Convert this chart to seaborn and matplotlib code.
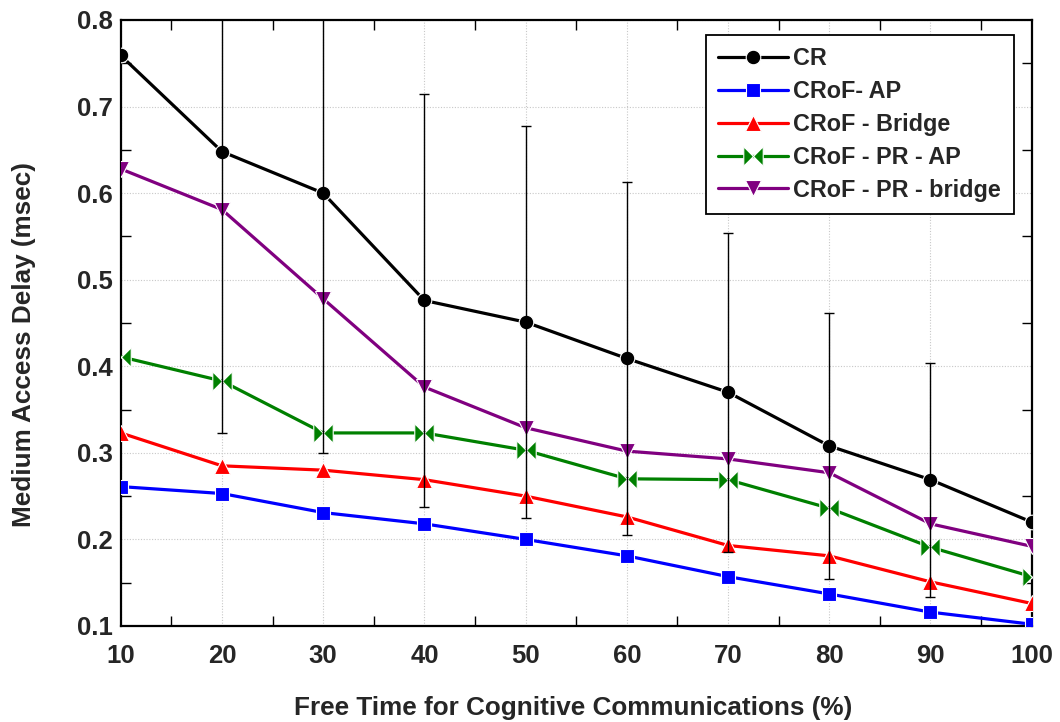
import numpy as np
import pandas as pd
import matplotlib
matplotlib.use("Agg")
import matplotlib.pyplot as plt
from matplotlib.path import Path
from matplotlib.ticker import MultipleLocator
import seaborn as sns

# ---- data ----
free_time = [10, 20, 30, 40, 50, 60, 70, 80, 90, 100]
cr = [0.759, 0.648, 0.600, 0.476, 0.451, 0.409, 0.370, 0.308, 0.269, 0.220]
crof_ap = [0.261, 0.253, 0.231, 0.218, 0.200, 0.181, 0.157, 0.137, 0.116, 0.102]
crof_bridge = [0.323, 0.285, 0.280, 0.269, 0.250, 0.226, 0.193, 0.181, 0.151, 0.126]
crof_pr_ap = [0.411, 0.383, 0.323, 0.323, 0.303, 0.270, 0.269, 0.236, 0.191, 0.157]
crof_pr_bridge = [0.628, 0.581, 0.478, 0.376, 0.329, 0.302, 0.293, 0.277, 0.218, 0.192]
cr_err = [np.nan, 0.325, 0.300, 0.239, 0.226, 0.204, 0.184, 0.154, 0.135, np.nan]

labels = ["CR", "CRoF- AP", "CRoF - Bridge", "CRoF - PR - AP", "CRoF - PR - bridge"]
series = [cr, crof_ap, crof_bridge, crof_pr_ap, crof_pr_bridge]
colors = ["#000000", "#0000ff", "#ff0000", "#008000", "#800080"]

bowtie = Path([(-1, -1), (0, 0), (-1, 1), (-1, -1), (1, -1), (0, 0), (1, 1), (1, -1)],
              [Path.MOVETO, Path.LINETO, Path.LINETO, Path.CLOSEPOLY,
               Path.MOVETO, Path.LINETO, Path.LINETO, Path.CLOSEPOLY])
markers = ["o", "s", "^", bowtie, "v"]
msizes = [10.5, 10.5, 11, 14, 11]

sns.set_theme(style="white")
plt.rcParams["font.family"] = ["Liberation Sans", "DejaVu Sans"]
plt.rcParams["font.weight"] = "bold"

fig = plt.figure(figsize=(10.6, 7.22), dpi=100)
ax = fig.add_axes([0.1139, 0.133, 0.8594, 0.8393])

for lab, ys, c, m, ms in zip(labels, series, colors, markers, msizes):
    df = pd.DataFrame({"x": free_time, "y": ys})
    sns.lineplot(data=df, x="x", y="y", ax=ax, color=c, marker=m, markersize=ms,
                 markeredgecolor="white", markeredgewidth=0.8, linewidth=2.3,
                 label=lab, zorder=3)

mask = ~np.isnan(np.array(cr_err))
ax.errorbar(np.array(free_time)[mask], np.array(cr)[mask], yerr=np.array(cr_err)[mask],
            fmt="none", ecolor="black", elinewidth=1.0, capsize=3.6, capthick=1.0, zorder=4)

ax.set_xlim(10, 100)
ax.set_ylim(0.1, 0.8)
ax.xaxis.set_minor_locator(MultipleLocator(5))
ax.yaxis.set_minor_locator(MultipleLocator(0.05))
ax.set_yticks(np.arange(0.1, 0.81, 0.1))
ax.set_yticklabels([f"{v:.1f}" for v in np.arange(0.1, 0.81, 0.1)])
ax.set_xticks(free_time)
ax.set_xticklabels([str(v) for v in free_time])

ax.tick_params(which="major", length=0, labelsize=18.5, pad=6)
ax.tick_params(axis="x", which="major", pad=13)
ax.tick_params(which="minor", direction="in", length=7, width=1, color="black",
               top=True, right=True, bottom=True, left=True)
for t in ax.get_xticklabels() + ax.get_yticklabels():
    t.set_fontweight("bold")
ax.grid(True, which="major", linestyle=(0, (1, 1.5)), color="#c8c8c8", linewidth=0.8)
for s in ax.spines.values():
    s.set_color("black")
    s.set_linewidth(1.6)
    s.set_visible(True)

ax.set_xlabel("Free Time for Cognitive Communications (%)", fontsize=18.8, fontweight="bold")
ax.set_ylabel("Medium Access Delay (msec)", fontsize=18.8, fontweight="bold")
ax.xaxis.set_label_coords(0.497, -0.115)
ax.yaxis.set_label_coords(-0.093, 0.465)

leg = ax.legend(loc="upper left", bbox_to_anchor=(0.642, 0.976), borderaxespad=0,
                frameon=True, fancybox=False, edgecolor="black", framealpha=1,
                prop={"size": 16.8, "weight": "bold"}, handlelength=3.0,
                labelspacing=0.42, handletextpad=0.2, borderpad=0.55, numpoints=1)
leg.get_frame().set_linewidth(1.3)

fig.savefig("out.png", dpi=100)
